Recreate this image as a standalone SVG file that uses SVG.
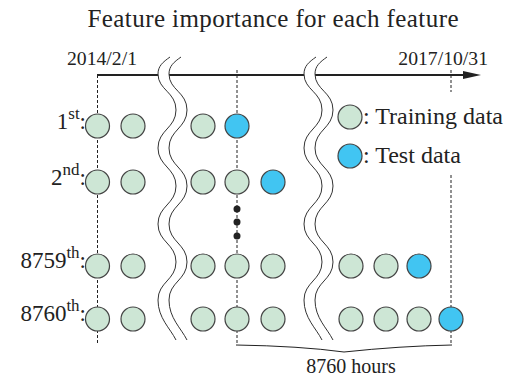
<svg xmlns="http://www.w3.org/2000/svg" width="512" height="378" viewBox="0 0 512 378">
<style>
text{font-family:'Liberation Serif';fill:#222}
.g{fill:#cde6d5;stroke:#444;stroke-width:1.2}
.b{fill:#41c5f2;stroke:#444;stroke-width:1.2}
.d{stroke:#222;stroke-width:1;stroke-dasharray:3,2;fill:none}
.w{fill:none;stroke:#333;stroke-width:1}
.lbl{font-size:23px}
.sup{font-size:17px}
</style>
<text x="273" y="27" font-size="25" text-anchor="middle" textLength="371" lengthAdjust="spacing" font-family="Liberation Serif">Feature importance for each feature</text>
<g id="axis">
<line x1="97" y1="75" x2="470" y2="75" stroke="#222" stroke-width="2"/>
<path d="M463,71 L481,75 L463,79 z" fill="#222"/>
<text x="102" y="65" font-size="19.7" text-anchor="middle" font-family="Liberation Serif">2014/2/1</text>
<text x="488" y="65" font-size="19.7" text-anchor="end" font-family="Liberation Serif">2017/10/31</text>
</g>
<g id="connectors">
<line class="d" x1="97.5" y1="75" x2="97.5" y2="343"/>
<line class="d" x1="237" y1="70" x2="237" y2="345"/>
<line class="d" x1="451" y1="70" x2="451" y2="92"/>
<line class="d" x1="451" y1="175" x2="451" y2="345"/>
<path d="M236,345 Q300,346 344,352 Q400,346 452,345" fill="none" stroke="#222" stroke-width="1"/>
</g>
<g id="breaks">
<path d="M170,57 C163,62 158,66 158,74 C158,90 176,92 176,110 C176,128 158,130 158,148 C158,166 176,168 176,186 C176,204 158,206 158,224 C158,242 176,244 176,262 C176,280 158,282 158,300 C158,318 170,328 176,340 L187,340 C181,328 169,318 169,300 C169,282 187,280 187,262 C187,244 169,242 169,224 C169,206 187,204 187,186 C187,168 169,166 169,148 C169,130 187,128 187,110 C187,92 169,90 169,74 C169,66 174,62 181,57 Z" fill="#fff" stroke="none"/>
<path class="w" d="M170,57 C163,62 158,66 158,74 C158,90 176,92 176,110 C176,128 158,130 158,148 C158,166 176,168 176,186 C176,204 158,206 158,224 C158,242 176,244 176,262 C176,280 158,282 158,300 C158,318 170,328 176,340"/>
<path class="w" d="M181,57 C174,62 169,66 169,74 C169,90 187,92 187,110 C187,128 169,130 169,148 C169,166 187,168 187,186 C187,204 169,206 169,224 C169,242 187,244 187,262 C187,280 169,282 169,300 C169,318 181,328 187,340"/>
<g transform="translate(146,0)">
<path d="M170,57 C163,62 158,66 158,74 C158,90 176,92 176,110 C176,128 158,130 158,148 C158,166 176,168 176,186 C176,204 158,206 158,224 C158,242 176,244 176,262 C176,280 158,282 158,300 C158,318 170,328 176,340 L187,340 C181,328 169,318 169,300 C169,282 187,280 187,262 C187,244 169,242 169,224 C169,206 187,204 187,186 C187,168 169,166 169,148 C169,130 187,128 187,110 C187,92 169,90 169,74 C169,66 174,62 181,57 Z" fill="#fff" stroke="none"/>
<path class="w" d="M170,57 C163,62 158,66 158,74 C158,90 176,92 176,110 C176,128 158,130 158,148 C158,166 176,168 176,186 C176,204 158,206 158,224 C158,242 176,244 176,262 C176,280 158,282 158,300 C158,318 170,328 176,340"/>
<path class="w" d="M181,57 C174,62 169,66 169,74 C169,90 187,92 187,110 C187,128 169,130 169,148 C169,166 187,168 187,186 C187,204 169,206 169,224 C169,242 187,244 187,262 C187,280 169,282 169,300 C169,318 181,328 187,340"/>
</g>
</g>
<g id="row1">
<text class="lbl" x="86" y="129" text-anchor="end">1<tspan class="sup" dy="-10">st</tspan><tspan dy="10">:</tspan></text>
<circle class="g" cx="97.5" cy="126" r="12"/>
<circle class="g" cx="133" cy="126" r="12"/>
<circle class="g" cx="203" cy="126" r="12"/>
<circle class="b" cx="237" cy="126" r="12"/>
</g>
<g id="row2">
<text class="lbl" x="86" y="185" text-anchor="end">2<tspan class="sup" dy="-10">nd</tspan><tspan dy="10">:</tspan></text>
<circle class="g" cx="97.5" cy="182" r="12"/>
<circle class="g" cx="133" cy="182" r="12"/>
<circle class="g" cx="203" cy="182" r="12"/>
<circle class="g" cx="237" cy="182" r="12"/>
<circle class="b" cx="273" cy="182" r="12"/>
</g>
<g id="ellipsis">
<circle cx="237" cy="209" r="3.5" fill="#222"/>
<circle cx="237" cy="222" r="3.5" fill="#222"/>
<circle cx="237" cy="236" r="3.5" fill="#222"/>
</g>
<g id="row8759">
<text class="lbl" x="86" y="268" text-anchor="end">8759<tspan class="sup" dy="-10">th</tspan><tspan dy="10">:</tspan></text>
<circle class="g" cx="97.5" cy="266" r="12"/>
<circle class="g" cx="133" cy="266" r="12"/>
<circle class="g" cx="203" cy="266" r="12"/>
<circle class="g" cx="237" cy="266" r="12"/>
<circle class="g" cx="273" cy="266" r="12"/>
<circle class="g" cx="351" cy="266" r="12"/>
<circle class="g" cx="386" cy="266" r="12"/>
<circle class="b" cx="419" cy="266" r="12"/>
</g>
<g id="row8760">
<text class="lbl" x="86" y="321" text-anchor="end">8760<tspan class="sup" dy="-10">th</tspan><tspan dy="10">:</tspan></text>
<circle class="g" cx="97.5" cy="319" r="12"/>
<circle class="g" cx="133" cy="319" r="12"/>
<circle class="g" cx="203" cy="319" r="12"/>
<circle class="g" cx="237" cy="319" r="12"/>
<circle class="g" cx="273" cy="319" r="12"/>
<circle class="g" cx="351" cy="319" r="12"/>
<circle class="g" cx="386" cy="319" r="12"/>
<circle class="g" cx="419" cy="319" r="12"/>
<circle class="b" cx="451" cy="319" r="12"/>
</g>
<g id="legend">
<circle class="g" cx="350" cy="117" r="12"/>
<text x="363" y="124" font-size="24">: Training data</text>
<circle class="b" cx="350" cy="156" r="12"/>
<text x="363" y="163" font-size="24">: Test data</text>
</g>
<text x="351" y="373" font-size="20" text-anchor="middle">8760 hours</text>
</svg>
